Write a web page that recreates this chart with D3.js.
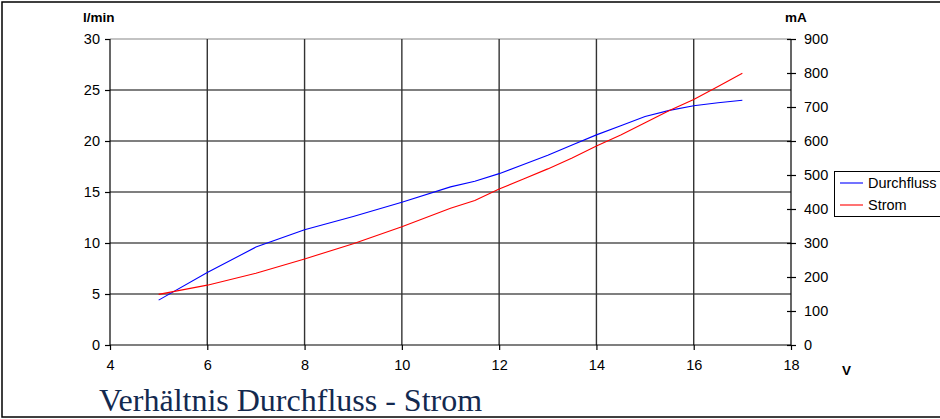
<!DOCTYPE html>
<html>
<head>
<meta charset="utf-8">
<script src="https://cdn.jsdelivr.net/npm/d3@7"></script>
<style>
  body { margin: 0; background: #fff; }
  svg text { font-family: "Liberation Sans", Arial, sans-serif; }
</style>
</head>
<body>
<div id="chart"></div>
<script>
// measured values
var volts = [5, 6, 7, 8, 9, 10, 11, 11.5, 12, 12.5, 13, 13.5, 14, 14.5, 15, 15.5, 16, 16.5, 17];
var flow = [4.4, 7.1, 9.6, 11.3, 12.6, 14.0, 15.5, 16.05, 16.8, 17.7, 18.6, 19.6, 20.6, 21.5, 22.4, 23.0, 23.45, 23.75, 24.0];
var current = [149, 176, 211, 253, 298, 348, 402, 425, 459, 488, 518, 550, 585, 618, 654, 690, 722, 760, 799];
var xTicks = [4, 6, 8, 10, 12, 14, 16, 18];
var yLeftTicks = [0, 5, 10, 15, 20, 25, 30];
var yRightTicks = [0, 100, 200, 300, 400, 500, 600, 700, 800, 900];

var width = 940, height = 419;
var svg = d3.select('#chart').append('svg')
    .attr('width', width)
    .attr('height', height);

// outer frame
svg.append('rect')
    .attr('x', 2).attr('y', 2)
    .attr('width', width + 10).attr('height', 415)
    .attr('fill', 'none').attr('stroke', '#000').attr('stroke-width', 1.5);

var x = d3.scaleLinear().domain([4, 18]).range([110, 791]);
var yL = d3.scaleLinear().domain([0, 30]).range([345, 39]);
var yR = d3.scaleLinear().domain([0, 900]).range([345, 39]);

// grid
svg.append('g').selectAll('line')
    .data(yLeftTicks.slice(1, -1)).enter()
    .append('line')
    .attr('x1', 110).attr('x2', 791)
    .attr('y1', function (d) { return yL(d); })
    .attr('y2', function (d) { return yL(d); })
    .attr('stroke', '#000').attr('stroke-width', 1.2);
svg.append('line')
    .attr('x1', 110).attr('x2', 791)
    .attr('y1', yL(30)).attr('y2', yL(30))
    .attr('stroke', '#888').attr('stroke-width', 1.2);
svg.append('g').selectAll('line')
    .data(xTicks.slice(1, -1)).enter()
    .append('line')
    .attr('y1', 39).attr('y2', 345)
    .attr('x1', function (d) { return x(d); })
    .attr('x2', function (d) { return x(d); })
    .attr('stroke', '#333').attr('stroke-width', 1.4);

// axes
var xAxis = svg.append('g')
    .attr('transform', 'translate(0,345)')
    .call(d3.axisBottom(x).tickValues(xTicks).tickSize(5).tickPadding(10));
var leftAxis = svg.append('g')
    .attr('transform', 'translate(110,0)')
    .call(d3.axisLeft(yL).tickValues(yLeftTicks).tickSize(5).tickPadding(5));
var rightAxis = svg.append('g')
    .attr('transform', 'translate(791,0)')
    .call(d3.axisRight(yR).tickValues(yRightTicks).tickSize(5).tickPadding(8));
rightAxis.selectAll('.tick line').attr('x1', -4);

[xAxis, leftAxis, rightAxis].forEach(function (a) {
  a.select('.domain').attr('stroke', '#000').attr('stroke-width', 1.2);
  a.selectAll('.tick line').attr('stroke', '#000').attr('stroke-width', 1.2);
  a.selectAll('text')
    .attr('fill', '#000')
    .style('font-size', '14.5px')
    .style('font-family', '"Liberation Sans", Arial, sans-serif');
});
xAxis.select('.domain').attr('d', 'M110,0H791');
leftAxis.select('.domain').attr('d', 'M0,39V345');
rightAxis.select('.domain').attr('d', 'M0,39V345');

// unit labels
svg.append('text').attr('x', 83).attr('y', 22).text('l/min')
    .style('font-size', '13.5px').style('font-weight', 'bold');
svg.append('text').attr('x', 785).attr('y', 22).text('mA')
    .style('font-size', '13.5px').style('font-weight', 'bold');
svg.append('text').attr('x', 842).attr('y', 375).text('V')
    .style('font-size', '13.5px').style('font-weight', 'bold');

// series
var pts = volts.map(function (v, i) { return { v: v, f: flow[i], c: current[i] }; });
svg.append('path')
    .datum(pts)
    .attr('fill', 'none').attr('stroke', '#0000ff').attr('stroke-width', 1.1)
    .attr('d', d3.line()
      .x(function (d) { return x(d.v); })
      .y(function (d) { return yL(d.f); }));
svg.append('path')
    .datum(pts)
    .attr('fill', 'none').attr('stroke', '#ff0000').attr('stroke-width', 1.1)
    .attr('d', d3.line()
      .x(function (d) { return x(d.v); })
      .y(function (d) { return yR(d.c); }));

// legend
var legend = svg.append('g');
legend.append('rect')
    .attr('x', 834.5).attr('y', 171.5).attr('width', 120).attr('height', 45)
    .attr('fill', '#fff').attr('stroke', '#000').attr('stroke-width', 1);
var items = [{ name: 'Durchfluss', color: '#0000ff' }, { name: 'Strom', color: '#ff0000' }];
items.forEach(function (it, i) {
  var yy = 183 + i * 22;
  legend.append('line')
    .attr('x1', 840).attr('x2', 863).attr('y1', yy).attr('y2', yy)
    .attr('stroke', it.color).attr('stroke-width', 1.1);
  legend.append('text')
    .attr('x', 868).attr('y', yy + 5)
    .text(it.name)
    .style('font-size', '14.5px');
});

// title
svg.append('text')
    .attr('x', 99).attr('y', 411)
    .text('Verhältnis Durchfluss - Strom')
    .style('font-family', '"Liberation Serif", "Times New Roman", serif')
    .style('font-size', '32px')
    .attr('fill', '#13294f');
</script>
</body>
</html>
